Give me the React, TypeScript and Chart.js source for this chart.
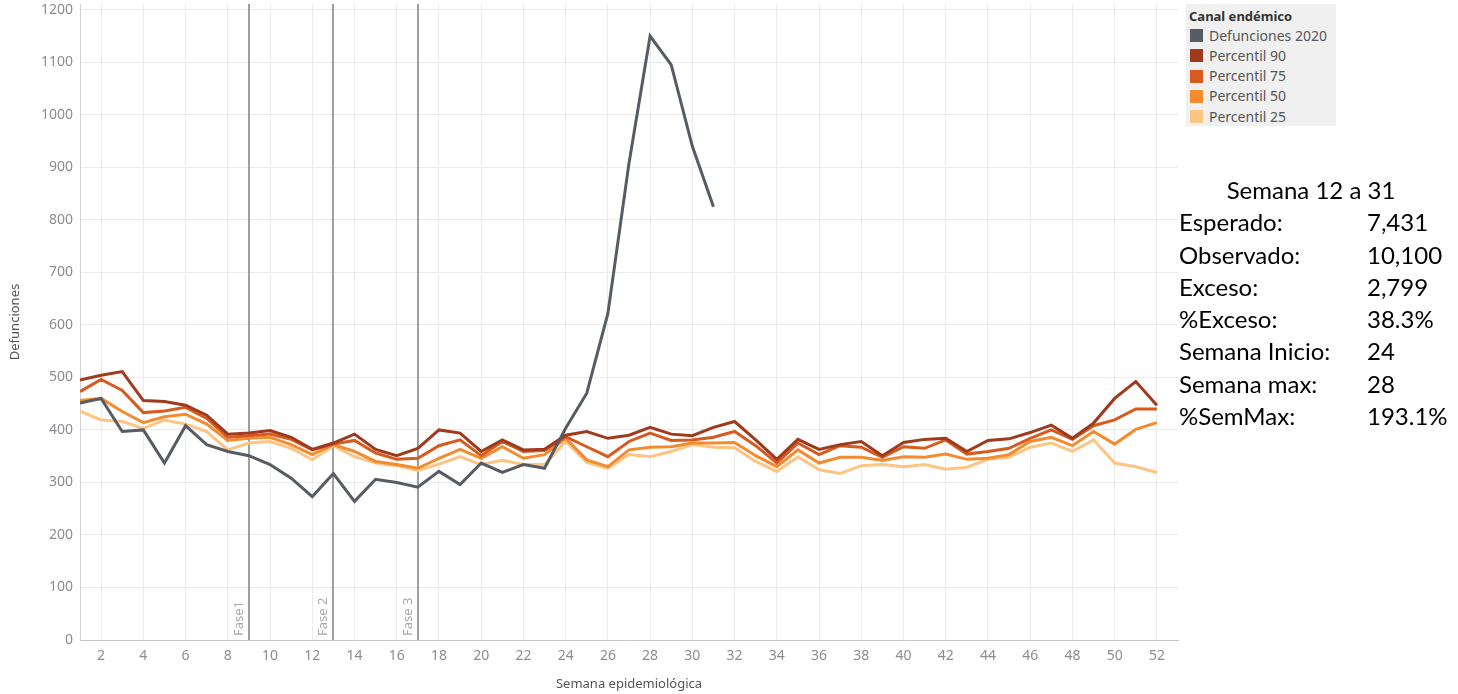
import React, { useEffect, useRef } from "react";
import { Chart, registerables } from "chart.js";
Chart.register(...registerables);

const weeks = [
  1, 2, 3, 4, 5, 6, 7, 8, 9, 10, 11, 12, 13, 14, 15, 16, 17, 18, 19, 20, 21, 22, 23, 24, 25, 26,
  27, 28, 29, 30, 31, 32, 33, 34, 35, 36, 37, 38, 39, 40, 41, 42, 43, 44, 45, 46, 47, 48, 49, 50, 51, 52,
];
const xTickWeeks = [2, 4, 6, 8, 10, 12, 14, 16, 18, 20, 22, 24, 26, 28, 30, 32, 34, 36, 38, 40, 42, 44, 46, 48, 50, 52];
const yTicks = [0, 100, 200, 300, 400, 500, 600, 700, 800, 900, 1000, 1100, 1200];

const defunciones2020 = [
  451, 460, 397, 400, 337, 408, 372, 359, 351, 334, 308, 273, 317, 264, 306, 300, 291, 321, 296, 337,
  319, 334, 327, 403, 470, 622, 908, 1150, 1095, 940, 825,
];
const percentil90 = [
  495, 504, 511, 456, 454, 447, 428, 392, 394, 399, 386, 363, 375, 392, 363, 351, 365, 400, 394, 359,
  381, 362, 363, 390, 397, 384, 390, 405, 392, 389, 405, 416, 381, 344, 382, 363, 372, 378, 351, 376,
  382, 384, 359, 380, 383, 395, 409, 384, 413, 460, 492, 447,
];
const percentil75 = [
  473, 496, 475, 433, 436, 443, 422, 386, 389, 392, 382, 362, 373, 380, 356, 344, 346, 370, 381, 351,
  378, 359, 361, 387, 368, 349, 378, 394, 380, 381, 386, 397, 370, 337, 375, 353, 370, 367, 348, 368,
  365, 381, 354, 359, 365, 384, 400, 382, 408, 419, 440, 440,
];
const percentil50 = [
  456, 460, 435, 414, 425, 430, 411, 380, 384, 386, 372, 353, 372, 359, 340, 334, 327, 346, 363, 346,
  368, 346, 353, 384, 343, 330, 362, 367, 368, 375, 375, 376, 351, 330, 362, 337, 348, 348, 342, 349,
  348, 354, 344, 346, 353, 378, 386, 370, 397, 373, 401, 414,
];
const percentil25 = [
  436, 419, 416, 403, 419, 411, 397, 362, 375, 378, 365, 343, 370, 349, 337, 332, 323, 335, 349, 334,
  342, 334, 334, 378, 338, 327, 353, 349, 359, 372, 367, 366, 340, 321, 349, 324, 317, 332, 334, 330,
  334, 325, 329, 344, 348, 367, 375, 359, 381, 337, 330, 319,
];

const seriesNames = ["Defunciones 2020", "Percentil 90", "Percentil 75", "Percentil 50", "Percentil 25"];
const seriesColors = ["#575c64", "#9f3a1d", "#d75a1e", "#f38b30", "#fdc483"];
const legendTitle = "Canal endémico";

const faseWeeks = [9, 13, 17];
const faseLabels = ["Fase1", "Fase 2", "Fase 3"];

const summaryTitle = "Semana 12 a 31";
const summaryLabels = ["Esperado:", "Observado:", "Exceso:", "%Exceso:", "Semana Inicio:", "Semana max:", "%SemMax:"];
const summaryValues = ["7,431", "10,100", "2,799", "38.3%", "24", "28", "193.1%"];

const FONT = "'Noto Sans', 'DejaVu Sans', sans-serif";

const toPoints = (arr: number[]) => arr.map((v, i) => ({ x: weeks[i], y: v }));

const faseLinesPlugin = {
  id: "faseLines",
  beforeDatasetsDraw(chart: any) {
    const { ctx, chartArea, scales } = chart;
    ctx.save();
    faseWeeks.forEach((w, i) => {
      const x = Math.round(scales.x.getPixelForValue(w));
      ctx.strokeStyle = "#9f9f9f";
      ctx.lineWidth = 2;
      ctx.beginPath();
      ctx.moveTo(x, chartArea.top);
      ctx.lineTo(x, chartArea.bottom);
      ctx.stroke();
      ctx.save();
      ctx.translate(x - 10, chartArea.bottom - 4);
      ctx.rotate(-Math.PI / 2);
      ctx.fillStyle = "#a8a8a8";
      ctx.font = `13px ${FONT}`;
      ctx.textAlign = "left";
      ctx.textBaseline = "middle";
      ctx.fillText(faseLabels[i], 0, 0);
      ctx.restore();
    });
    ctx.restore();
  },
};

export default function App() {
  const ref = useRef<HTMLCanvasElement>(null);

  useEffect(() => {
    const seriesData = [defunciones2020, percentil90, percentil75, percentil50, percentil25];
    const chart = new Chart(ref.current as HTMLCanvasElement, {
      type: "line",
      data: {
        datasets: seriesData.map((arr, i) => ({
          label: seriesNames[i],
          data: toPoints(arr),
          borderColor: seriesColors[i],
          backgroundColor: seriesColors[i],
          borderWidth: 3,
          pointRadius: 0,
          tension: 0,
          fill: false,
        })),
      },
      options: {
        responsive: false,
        animation: false,
        layout: { padding: { top: 4, right: 2, left: 0, bottom: 0 } },
        plugins: { legend: { display: false }, tooltip: { enabled: false } },
        scales: {
          x: {
            type: "linear",
            min: 1,
            max: 53,
            afterBuildTicks: (s: any) => {
              s.ticks = xTickWeeks.map((v) => ({ value: v }));
            },
            afterFit: (s: any) => {
              s.height = 54;
              s.paddingLeft = 0;
              s.paddingRight = 0;
            },
            grid: { color: "#ebebeb", drawTicks: false, lineWidth: 1 },
            border: { color: "#c6c6c6", width: 1 },
            ticks: {
              font: { family: FONT, size: 14 },
              color: "#8a8d92",
              padding: 8,
              autoSkip: false,
              maxRotation: 0,
              callback: (v: any) => String(v),
            },
            title: {
              display: true,
              text: "Semana epidemiológica",
              font: { family: FONT, size: 13 },
              color: "#555555",
              padding: { top: 0, bottom: 2 },
            },
          },
          y: {
            type: "linear",
            min: 0,
            max: 1211,
            afterBuildTicks: (s: any) => {
              s.ticks = yTicks.map((v) => ({ value: v }));
            },
            afterFit: (s: any) => {
              s.width = 80;
              s.paddingTop = 0;
              s.paddingBottom = 0;
            },
            grid: { color: "#ebebeb", drawTicks: false, lineWidth: 1 },
            border: { color: "#d4d4d4", width: 1 },
            ticks: {
              font: { family: FONT, size: 14 },
              color: "#8a8d92",
              padding: 7,
              callback: (v: any) => String(v),
            },
            title: {
              display: true,
              text: "Defunciones",
              font: { family: FONT, size: 13 },
              color: "#555555",
              padding: { top: 7, bottom: 0 },
            },
          },
        },
      },
      plugins: [faseLinesPlugin],
    } as any);
    return () => chart.destroy();
  }, []);

  return (
    <div
      style={{
        position: "absolute",
        left: 0,
        top: 0,
        width: 1458,
        height: 694,
        background: "#ffffff",
        overflow: "hidden",
      }}
    >
      <canvas
        ref={ref}
        width={1180}
        height={694}
        style={{ position: "absolute", left: 0, top: 0, width: 1180, height: 694 }}
      />
      <div
        style={{
          position: "absolute",
          left: 1186,
          top: 4,
          width: 150,
          height: 122,
          background: "#f0f0f0",
          fontFamily: FONT,
        }}
      >
        <div
          style={{
            position: "absolute",
            left: 3,
            top: 3,
            fontSize: 13,
            fontWeight: "bold",
            color: "#333",
            lineHeight: "18px",
            whiteSpace: "nowrap",
          }}
        >
          {legendTitle}
        </div>
        {seriesNames.map((n, i) => (
          <div
            key={n}
            style={{
              position: "absolute",
              left: 4,
              top: 21.5 + i * 20.3,
              height: 20,
              display: "flex",
              alignItems: "center",
              whiteSpace: "nowrap",
            }}
          >
            <div style={{ width: 13, height: 13, background: seriesColors[i], marginRight: 6 }} />
            <span style={{ fontSize: 14, color: "#555", lineHeight: "20px" }}>{n}</span>
          </div>
        ))}
      </div>
      <div
        style={{
          position: "absolute",
          left: 1178,
          top: 174,
          width: 266,
          fontFamily: "Lato, 'Liberation Sans', sans-serif",
          fontSize: 24,
          color: "#000",
          lineHeight: "32.3px",
        }}
      >
        <div style={{ textAlign: "center", whiteSpace: "nowrap" }}>{summaryTitle}</div>
        {summaryLabels.map((l, i) => (
          <div key={l} style={{ position: "relative", height: 32.3, whiteSpace: "nowrap" }}>
            <span style={{ position: "absolute", left: 1 }}>{l}</span>
            <span style={{ position: "absolute", left: 189 }}>{summaryValues[i]}</span>
          </div>
        ))}
      </div>
    </div>
  );
}
